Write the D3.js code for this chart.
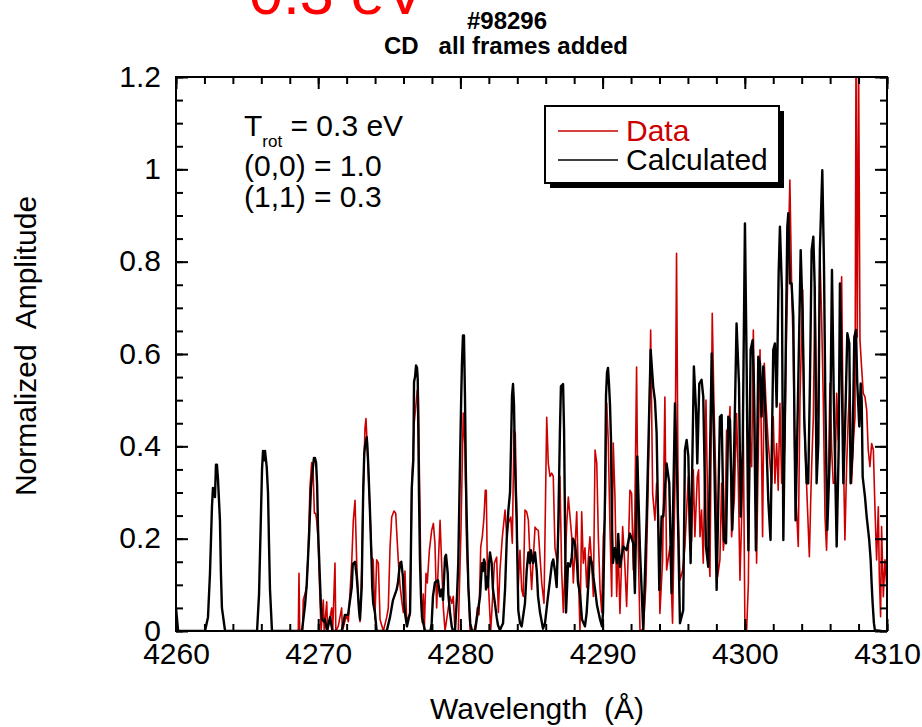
<!DOCTYPE html>
<html>
<head>
<meta charset="utf-8">
<script src="https://cdn.jsdelivr.net/npm/d3@7"></script>
<style>
  body { margin: 0; background: #fff; }
  svg text { font-family: "Liberation Sans", Arial, Helvetica, sans-serif; fill: #000; }
</style>
</head>
<body>
<svg id="chart" width="922" height="727"></svg>
<script>
// DATA //

const xTicks = [4260, 4270, 4280, 4290, 4300, 4310]
const yTicks = [0, 0.2, 0.4, 0.6, 0.8, 1, 1.2]
const yTickLabels = ["0", "0.2", "0.4", "0.6", "0.8", "1", "1.2"]
const legendLabels = ["Data", "Calculated"]
const notes = ["(0,0) = 1.0", "(1,1) = 0.3"]

// [wavelength (A), normalized amplitude]
const calcPoints = [
  [4260.00,0.05],[4260.15,0],[4262.04,0],[4262.25,0.03],[4262.39,0.125],[4262.53,0.27],[4262.60,0.31],[4262.74,0.29],
  [4262.81,0.36],[4262.88,0.36],[4262.95,0.33],[4263.09,0.24],[4263.16,0.125],[4263.23,0.05],[4263.45,0],
  [4265.70,0],[4265.84,0.08],[4265.98,0.26],[4266.05,0.35],[4266.12,0.39],[4266.19,0.37],[4266.26,0.39],[4266.38,0.355],
  [4266.47,0.30],[4266.54,0.19],[4266.61,0.09],[4266.75,0],
  [4268.86,0],[4269.07,0.055],[4269.19,0.10],[4269.35,0.20],[4269.42,0.255],[4269.49,0.31],[4269.63,0.355],[4269.70,0.375],
  [4269.77,0.375],[4269.85,0.365],[4269.92,0.32],[4269.99,0.22],[4270.13,0.105],[4270.20,0.05],[4270.27,0.025],[4270.41,0.02],
  [4270.48,0.025],[4270.62,0],[4270.83,0.03],[4271.00,0],
  [4271.65,0],[4271.88,0.035],[4272.10,0.035],[4272.36,0.095],[4272.43,0.145],[4272.59,0.15],[4272.71,0.117],[4272.80,0.08],
  [4272.87,0.045],[4272.94,0.025],[4273.06,0.095],[4273.13,0.24],[4273.17,0.31],[4273.24,0.385],[4273.29,0.40],[4273.41,0.42],
  [4273.45,0.405],[4273.52,0.36],[4273.64,0.26],[4273.76,0.145],[4273.80,0.095],[4273.87,0.06],[4273.99,0.04],[4274.11,0],
  [4274.82,0],[4275.05,0.03],[4275.26,0.067],[4275.52,0.09],[4275.61,0.105],[4275.75,0.147],[4275.84,0.15],[4275.96,0.117],
  [4276.03,0.067],[4276.10,0.04],[4276.24,0.01],[4276.46,0.04],[4276.58,0.31],[4276.69,0.37],[4276.74,0.54],[4276.81,0.55],
  [4276.88,0.575],[4276.95,0.57],[4277.00,0.545],[4277.04,0.435],[4277.09,0.29],[4277.16,0.147],[4277.23,0.075],[4277.30,0.03],
  [4277.37,0.02],[4277.51,0],[4277.90,0],[4277.98,0.017],[4278.07,0.075],[4278.21,0.105],[4278.42,0.11],[4278.57,0.075],
  [4278.68,0.09],[4278.78,0.067],[4278.92,0.16],[4278.99,0.165],[4279.11,0.125],[4279.15,0.08],[4279.27,0.04],[4279.39,0.01],
  [4279.48,0],[4279.62,0],[4279.76,0.075],[4279.85,0.147],[4279.97,0.36],[4280.06,0.51],[4280.11,0.58],[4280.18,0.64],
  [4280.25,0.64],[4280.32,0.51],[4280.39,0.33],[4280.46,0.22],[4280.56,0.095],[4280.69,0.017],[4280.82,0],[4281.03,0],
  [4281.38,0.075],[4281.52,0.147],[4281.59,0.13],[4281.66,0.155],[4281.73,0.147],[4281.80,0.09],[4281.87,0.117],[4281.94,0.095],
  [4282.01,0.147],[4282.08,0.17],[4282.20,0.147],[4282.29,0.09],[4282.43,0.06],[4282.55,0.03],[4282.64,0.013],[4282.78,0.002],
  [4283.00,0.017],[4283.14,0.09],[4283.26,0.20],[4283.37,0.26],[4283.49,0.30],[4283.56,0.40],[4283.63,0.51],[4283.70,0.535],
  [4283.77,0.49],[4283.84,0.36],[4283.96,0.235],[4284.07,0.045],[4284.19,0.017],[4284.31,0.01],[4284.54,0.06],[4284.66,0.13],
  [4284.78,0.17],[4284.89,0.147],[4284.96,0.175],[4285.11,0.147],[4285.25,0.17],[4285.37,0.13],[4285.46,0.075],[4285.60,0.04],
  [4285.81,0.005],[4285.95,0.017],[4286.16,0.075],[4286.30,0.11],[4286.44,0.147],[4286.53,0.155],[4286.65,0.13],[4286.77,0.095],
  [4286.88,0.22],[4287.00,0.435],[4287.07,0.53],[4287.22,0.535],[4287.29,0.435],[4287.36,0.22],[4287.43,0.04],[4287.57,0.147],
  [4287.71,0.14],[4287.83,0.16],[4287.92,0.20],[4288.06,0.19],[4288.20,0.147],[4288.27,0.105],[4288.41,0.08],[4288.55,0.025],
  [4288.76,0.01],[4288.88,0.04],[4289.11,0.16],[4289.25,0.147],[4289.35,0.117],[4289.47,0.09],[4289.61,0.055],[4289.82,0.025],
  [4289.96,0.01],[4290.03,0.04],[4290.17,0.29],[4290.24,0.51],[4290.31,0.56],[4290.38,0.57],[4290.45,0.535],[4290.52,0.49],
  [4290.59,0.415],[4290.66,0.22],[4290.73,0.147],[4290.87,0.18],[4291.01,0.147],[4291.10,0.21],
  [4291.22,0.139],[4291.46,0.183],[4291.69,0.175],[4291.92,0.211],[4292.16,0.190],[4292.27,0.082],[4292.44,0.378],[4292.63,0.175],
  [4292.86,0.002],[4293.10,0.248],[4293.38,0.609],[4293.56,0.529],[4293.68,0.500],[4293.80,0.428],[4293.99,0.089],[4294.15,0.248],
  [4294.27,0.248],[4294.50,0.363],[4294.69,0.320],[4294.85,0.082],[4295.09,0.493],[4295.25,0.320],[4295.44,0.017],[4295.67,0.045],
  [4295.79,0.392],[4295.91,0.414],[4296.03,0.378],[4296.19,0.147],[4296.42,0.573],[4296.57,0.479],[4296.66,0.363],[4296.80,0.536],
  [4296.96,0.544],[4297.08,0.507],[4297.27,0.183],[4297.43,0.139],[4297.67,0.601],[4297.83,0.414],[4298.02,0.089],[4298.25,0.464],
  [4298.37,0.468],[4298.53,0.197],[4298.68,0.190],[4298.84,0.464],[4298.96,0.457],[4299.12,0.219],[4299.26,0.406],[4299.42,0.666],
  [4299.59,0.536],[4299.71,0.248],[4299.85,0.392],[4300.01,0.883],[4300.13,0.573],[4300.25,0.175],[4300.41,0.609],[4300.55,0.630],
  [4300.64,0.536],[4300.78,0.175],[4300.95,0.594],[4301.07,0.580],[4301.18,0.464],[4301.30,0.573],[4301.46,0.464],[4301.65,0.284],
  [4301.81,0.197],[4302.00,0.609],[4302.12,0.623],[4302.24,0.486],[4302.38,0.775],[4302.47,0.876],[4302.61,0.739],[4302.71,0.197],
  [4302.85,0.536],[4302.99,0.876],[4303.06,0.905],[4303.18,0.753],[4303.29,0.753],[4303.41,0.681],[4303.57,0.240],[4303.76,0.536],
  [4303.93,0.825],[4304.07,0.681],[4304.18,0.464],[4304.35,0.320],[4304.46,0.320],[4304.58,0.536],[4304.70,0.825],[4304.82,0.854],
  [4304.91,0.753],[4305.05,0.320],[4305.17,0.406],[4305.28,0.825],[4305.45,0.998],[4305.57,0.789],[4305.66,0.507],[4305.80,0.219],
  [4305.99,0.392],[4306.13,0.782],[4306.25,0.522],[4306.46,0.183],[4306.60,0.392],[4306.69,0.753],[4306.81,0.573],[4306.93,0.320],
  [4307.04,0.428],[4307.21,0.645],[4307.35,0.623],[4307.44,0.320],[4307.58,0.392],[4307.70,0.637],[4307.82,0.652],[4307.91,0.536],
  [4308.05,0.443],[4308.15,0.536],[4308.22,0.500],[4308.29,0.334],[4308.45,0.291],[4308.57,0.248],[4308.75,0.197],[4308.85,0.154],
  [4308.92,0.103],[4308.99,0.060],[4309.08,0.017],[4309.15,0.002],[4309.60,0]
]

const dataPoints = [
  [4268.60,0],[4268.65,0.125],[4268.70,0],[4268.90,0],[4268.95,0.067],[4269.07,0.08],[4269.19,0.095],[4269.30,0.175],
  [4269.42,0.31],[4269.54,0.365],[4269.63,0.36],[4269.73,0.255],[4269.82,0.255],[4269.89,0.24],[4269.99,0.2],[4270.13,0.067],
  [4270.20,0],[4270.36,0.067],[4270.42,0],[4270.60,0.063],[4270.66,0],[4270.95,0.05],[4271.02,0],[4271.18,0.147],
  [4271.24,0],[4271.41,0.01],[4271.65,0.05],[4271.70,0],[4272.00,0.035],[4272.12,0.02],[4272.36,0.15],[4272.47,0.24],
  [4272.59,0.283],[4272.71,0.147],[4272.82,0.067],[4272.94,0.02],[4273.06,0.13],[4273.17,0.30],[4273.29,0.44],[4273.36,0.46],
  [4273.45,0.40],[4273.52,0.35],[4273.64,0.26],[4273.76,0.16],[4273.87,0.154],[4273.99,0.025],[4274.11,0.154],[4274.23,0.147],
  [4274.35,0.025],[4274.58,0],[4274.82,0.03],[4274.93,0.05],[4275.05,0.18],[4275.17,0.247],[4275.33,0.26],[4275.45,0.255],
  [4275.63,0.154],[4275.75,0.10],[4275.87,0.067],[4275.99,0.04],[4276.10,0.13],[4276.22,0.025],[4276.46,0.035],[4276.58,0.31],
  [4276.75,0.45],[4276.97,0.522],[4277.04,0.507],[4277.16,0.255],[4277.23,0.08],[4277.32,0.018],[4277.39,0.08],[4277.46,0],
  [4277.58,0.125],[4277.67,0.104],[4277.82,0.175],[4277.98,0.218],[4278.10,0.233],[4278.21,0.19],[4278.33,0.05],[4278.45,0.147],
  [4278.57,0.24],[4278.68,0.147],[4278.80,0.05],[4278.92,0],[4279.15,0.05],[4279.27,0.075],[4279.39,0.06],[4279.50,0.075],
  [4279.62,0],[4279.85,0],[4280.04,0.218],[4280.20,0.472],[4280.32,0.40],[4280.44,0.182],[4280.56,0.095],[4280.68,0],
  [4280.96,0],[4281.10,0.02],[4281.19,0.05],[4281.31,0.035],[4281.43,0.182],[4281.54,0.204],[4281.66,0.247],[4281.75,0.305],
  [4281.82,0.305],[4281.89,0.147],[4282.01,0.075],[4282.13,0],[4282.27,0.075],[4282.39,0.147],[4282.55,0.16],[4282.67,0.04],
  [4282.78,0.13],[4282.95,0.204],[4283.14,0.262],[4283.26,0.204],[4283.37,0.233],[4283.54,0.247],[4283.65,0.19],[4283.77,0.435],
  [4283.86,0.428],[4283.98,0.218],[4284.07,0.095],[4284.19,0.175],[4284.31,0.09],[4284.42,0.075],[4284.54,0.262],[4284.66,0.258],
  [4284.78,0.24],[4284.89,0.16],[4285.01,0.09],[4285.13,0.16],[4285.25,0.225],[4285.37,0.22],[4285.48,0.218],[4285.60,0.16],
  [4285.72,0.104],[4285.88,0.06],[4286.07,0.463],[4286.18,0.363],[4286.30,0.335],[4286.42,0.342],[4286.53,0.335],[4286.65,0.18],
  [4286.82,0.147],[4287.00,0.335],[4287.12,0.13],[4287.24,0.04],[4287.36,0.14],[4287.48,0.233],[4287.59,0.29],[4287.71,0.247],
  [4287.83,0.204],[4287.94,0.104],[4288.06,0.18],[4288.18,0.258],[4288.29,0.13],[4288.41,0],[4288.53,0.258],[4288.64,0.147],
  [4288.76,0.18],[4288.88,0.095],[4289.00,0.16],[4289.11,0.204],[4289.23,0.147],[4289.35,0.075],[4289.47,0.392],[4289.59,0.363],
  [4289.70,0.204],[4289.82,0.09],[4289.94,0.04],[4290.05,0.204],[4290.17,0.247],[4290.29,0.493],[4290.40,0.41],[4290.52,0.22],
  [4290.64,0.075],[4290.75,0.407],[4290.87,0.29],[4290.99,0.075],[4291.10,0.18],
  [4291.22,0.038],[4291.41,0.226],[4291.57,0.139],[4291.69,0.053],[4291.81,0.175],[4291.92,0.305],[4292.04,0.298],[4292.16,0.132],
  [4292.27,0.262],[4292.39,0.572],[4292.51,0.175],[4292.63,0.002],[4292.86,0.002],[4293.05,0.103],[4293.21,0.320],[4293.38,0.652],
  [4293.52,0.298],[4293.68,0.240],[4293.80,0.320],[4293.92,0.248],[4294.03,0.038],[4294.22,0.154],[4294.38,0.507],[4294.50,0.132],
  [4294.74,0.183],[4294.92,0.017],[4295.09,0.320],[4295.20,0.818],[4295.32,0.248],[4295.44,0.110],[4295.63,0.132],[4295.79,0.183],
  [4295.91,0.262],[4296.03,0.334],[4296.14,0.175],[4296.26,0.197],[4296.38,0.349],[4296.49,0.204],[4296.66,0.334],[4296.75,0.349],
  [4296.85,0.204],[4296.96,0.262],[4297.08,0.147],[4297.27,0.500],[4297.43,0.190],[4297.55,0.118],[4297.71,0.688],[4297.83,0.493],
  [4297.97,0.320],[4298.09,0.118],[4298.25,0.154],[4298.37,0.320],[4298.49,0.175],[4298.60,0.219],[4298.72,0.435],[4298.84,0.406],
  [4298.96,0.486],[4299.07,0.204],[4299.26,0.284],[4299.42,0.471],[4299.54,0.334],[4299.66,0.110],[4299.78,0.248],[4299.89,0.450],
  [4300.01,0.002],[4300.13,0.002],[4300.25,0.103],[4300.36,0.421],[4300.48,0.356],[4300.60,0.652],[4300.71,0.421],[4300.83,0.147],
  [4300.95,0.392],[4301.07,0.609],[4301.18,0.378],[4301.25,0.204],[4301.37,0.580],[4301.49,0.493],[4301.65,0.406],[4301.89,0.320],
  [4302.00,0.464],[4302.12,0.320],[4302.24,0.406],[4302.35,0.305],[4302.47,0.493],[4302.59,0.320],[4302.71,0.320],[4302.82,0.421],
  [4302.94,0.659],[4303.17,0.977],[4303.29,0.753],[4303.41,0.609],[4303.53,0.334],[4303.76,0.183],[4303.88,0.500],[4304.07,0.739],
  [4304.16,0.464],[4304.35,0.313],[4304.54,0.161],[4304.63,0.276],[4304.70,0.356],[4304.82,0.464],[4304.93,0.746],[4305.05,0.500],
  [4305.17,0.464],[4305.28,0.818],[4305.40,0.681],[4305.52,0.500],[4305.64,0.248],[4305.75,0.175],[4305.87,0.320],[4305.99,0.536],
  [4306.11,0.392],[4306.22,0.320],[4306.34,0.320],[4306.46,0.515],[4306.57,0.414],[4306.69,0.580],[4306.81,0.767],[4306.93,0.392],
  [4307.04,0.197],[4307.16,0.356],[4307.28,0.464],[4307.39,0.536],[4307.51,0.320],[4307.63,0.406],[4307.75,0.464],[4307.82,1.25],
  [4307.91,0.637],[4308.00,1.25],[4308.10,0.630],[4308.21,0.573],[4308.33,0.515],[4308.45,0.507],[4308.57,0.479],[4308.68,0.392],
  [4308.80,0.356],[4308.92,0.406],[4309.04,0.392],[4309.15,0.269],[4309.27,0.154],[4309.39,0.269],[4309.46,0.118],[4309.55,0.031],
  [4309.62,0.226],[4309.74,0.074],[4309.86,0.154],[4309.97,0.103]
]

// LAYOUT //

const svg = d3.select('#chart')
const plotLeft = 176, plotRight = 887, plotTop = 77, plotBottom = 631

const x = d3.scaleLinear().domain([4260, 4310]).range([plotLeft, plotRight])
const y = d3.scaleLinear().domain([0, 1.2]).range([plotBottom, plotTop])

const xMinor = d3.range(4260, 4310.01, 2)
const yMinor = d3.range(0, 1.2001, 0.05)

svg.append('clipPath').attr('id', 'plot-clip')
   .append('rect').attr('x', plotLeft).attr('y', plotTop)
   .attr('width', plotRight - plotLeft).attr('height', plotBottom - plotTop)

// SPECTRA //

const line = d3.line().x(d => x(d[0])).y(d => y(d[1]))

svg.append('path')
   .datum(dataPoints)
   .attr('clip-path', 'url(#plot-clip)')
   .attr('fill', 'none')
   .attr('stroke', '#cc0000')
   .attr('stroke-width', 1.6)
   .attr('stroke-linejoin', 'round')
   .attr('d', line)

svg.append('path')
   .datum(calcPoints)
   .attr('clip-path', 'url(#plot-clip)')
   .attr('fill', 'none')
   .attr('stroke', '#000')
   .attr('stroke-width', 2.4)
   .attr('stroke-linejoin', 'round')
   .attr('d', line)

// AXES //

function styleAxis(g) {
    g.select('.domain').remove()
    g.selectAll('.tick line').attr('stroke', '#000').attr('stroke-width', 2)
    g.selectAll('.tick text').attr('font-size', 30).attr('fill', '#000')
}

svg.append('g').attr('transform', `translate(0,${plotBottom})`)
   .call(d3.axisBottom(x).tickValues(xMinor).tickSize(-7).tickFormat(''))
   .call(styleAxis)
svg.append('g').attr('transform', `translate(0,${plotBottom})`)
   .call(d3.axisBottom(x).tickValues(xTicks).tickSize(-12).tickPadding(12).tickFormat(d3.format('d')))
   .call(styleAxis)

svg.append('g').attr('transform', `translate(0,${plotTop})`)
   .call(d3.axisTop(x).tickValues(xMinor).tickSize(-7).tickFormat(''))
   .call(styleAxis)
svg.append('g').attr('transform', `translate(0,${plotTop})`)
   .call(d3.axisTop(x).tickValues(xTicks).tickSize(-12).tickFormat(''))
   .call(styleAxis)

svg.append('g').attr('transform', `translate(${plotLeft},0)`)
   .call(d3.axisLeft(y).tickValues(yMinor).tickSize(-7).tickFormat(''))
   .call(styleAxis)
svg.append('g').attr('transform', `translate(${plotLeft},0)`)
   .call(d3.axisLeft(y).tickValues(yTicks).tickSize(-12).tickPadding(15)
         .tickFormat((d, i) => yTickLabels[i]))
   .call(styleAxis)
   .call(g => g.selectAll('.tick text').attr('dy', '0.3em'))

svg.append('g').attr('transform', `translate(${plotRight},0)`)
   .call(d3.axisRight(y).tickValues(yMinor).tickSize(-7).tickFormat(''))
   .call(styleAxis)
svg.append('g').attr('transform', `translate(${plotRight},0)`)
   .call(d3.axisRight(y).tickValues(yTicks).tickSize(-12).tickFormat(''))
   .call(styleAxis)

svg.append('rect')
   .attr('x', plotLeft).attr('y', plotTop)
   .attr('width', plotRight - plotLeft).attr('height', plotBottom - plotTop)
   .attr('fill', 'none').attr('stroke', '#000').attr('stroke-width', 2)

// AXIS TITLES //

svg.append('text')
   .attr('x', 537).attr('y', 719)
   .attr('text-anchor', 'middle').attr('font-size', 30)
   .style('white-space', 'pre')
   .text('Wavelength  (Å)')

svg.append('text')
   .attr('transform', 'translate(36,346) rotate(-90)')
   .attr('text-anchor', 'middle').attr('font-size', 30)
   .style('white-space', 'pre')
   .text('Normalized  Amplitude')

// TITLES //

svg.append('text')
   .attr('x', 249).attr('y', 14)
   .attr('font-size', 61).style('fill', '#ff0000')
   .text('0.3 eV')

svg.append('text')
   .attr('x', 507).attr('y', 29)
   .attr('text-anchor', 'middle').attr('font-size', 24).attr('font-weight', 'bold')
   .text('#98296')

svg.append('text')
   .attr('x', 506).attr('y', 54)
   .attr('text-anchor', 'middle').attr('font-size', 24).attr('font-weight', 'bold')
   .style('white-space', 'pre')
   .text('CD   all frames added')

// ANNOTATION //

const note = svg.append('text').attr('x', 244).attr('y', 136).attr('font-size', 30)
note.append('tspan').text('T')
note.append('tspan').attr('font-size', 17).attr('dy', 11).text('rot')
note.append('tspan').attr('dy', -11).text(' = 0.3 eV')

svg.selectAll('.note')
   .data(notes)
   .enter()
   .append('text')
   .attr('class', 'note')
   .attr('x', 244)
   .attr('y', (d, i) => 176 + i * 31)
   .attr('font-size', 30)
   .text(d => d)

// LEGEND //

svg.append('rect').attr('x', 550).attr('y', 111).attr('width', 234).attr('height', 77).attr('fill', '#000')
svg.append('rect').attr('x', 545).attr('y', 106).attr('width', 234).attr('height', 77)
   .attr('fill', '#fff').attr('stroke', '#000').attr('stroke-width', 2)

const legendColors = ['#cc0000', '#000']
legendLabels.forEach((label, i) => {
    const ly = 131 + i * 29
    svg.append('line')
       .attr('x1', 558).attr('x2', 618).attr('y1', ly).attr('y2', ly)
       .attr('stroke', legendColors[i]).attr('stroke-width', 1.6)
    svg.append('text')
       .attr('x', 626).attr('y', ly + 10)
       .attr('font-size', 30).style('fill', legendColors[i])
       .text(label)
})
</script>
</body>
</html>
